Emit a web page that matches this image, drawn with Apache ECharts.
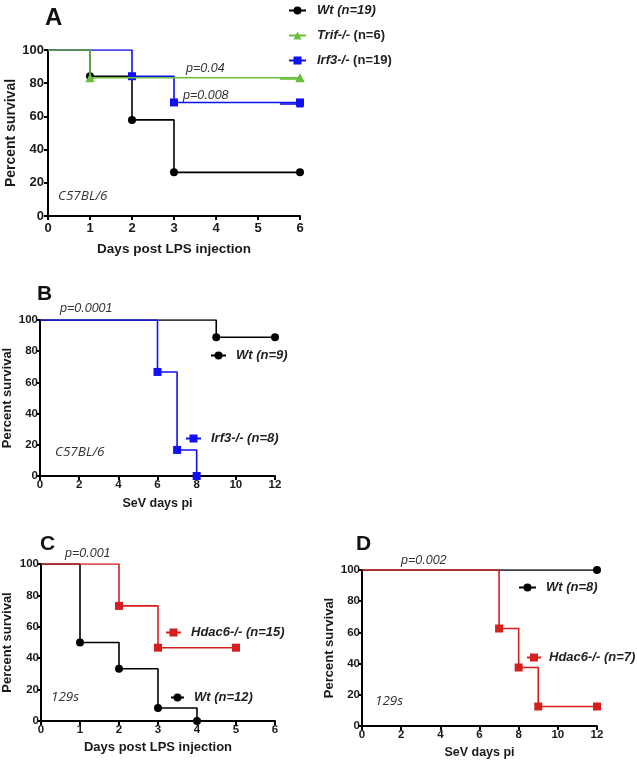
<!DOCTYPE html>
<html><head><meta charset="utf-8">
<script src="https://cdn.jsdelivr.net/npm/echarts@6/dist/echarts.min.js"></script>
<style>html,body{margin:0;padding:0;background:#fff}#c{width:637px;height:762px}</style>
</head><body><div id="c"></div>
<script>
// Panel A (LPS, C57BL/6)
const A_wt_days = [0, 1, 2, 3, 6];
const A_wt_surv = [100, 84.2, 57.9, 26.3, 26.3];
const A_trif_days = [0, 1, 6];
const A_trif_surv = [100, 83.3, 83.3];
const A_irf3_days = [0, 2, 3, 6];
const A_irf3_surv = [100, 84.2, 68.4, 68.4];
// Panel B (SeV, C57BL/6)
const B_wt_days = [0, 9, 12];
const B_wt_surv = [100, 88.9, 88.9];
const B_irf3_days = [0, 6, 7, 8];
const B_irf3_surv = [100, 66.7, 16.7, 0];
// Panel C (LPS, 129s)
const C_hdac6_days = [0, 2, 3, 5];
const C_hdac6_surv = [100, 73.3, 46.7, 46.7];
const C_wt_days = [0, 1, 2, 3, 4];
const C_wt_surv = [100, 50, 33.3, 8.3, 0];
// Panel D (SeV, 129s)
const D_wt_days = [0, 12];
const D_wt_surv = [100, 100];
const D_hdac6_days = [0, 7, 8, 9, 12];
const D_hdac6_surv = [100, 62.5, 37.5, 12.5, 12.5];

const names = {
  A_wt: 'Wt (n=19)', A_trif: 'Trif-/- (n=6)', A_irf3: 'Irf3-/- (n=19)',
  B_wt: 'Wt (n=9)', B_irf3: 'Irf3-/- (n=8)',
  C_hdac6: 'Hdac6-/- (n=15)', C_wt: 'Wt (n=12)',
  D_wt: 'Wt (n=8)', D_hdac6: 'Hdac6-/- (n=7)'
};

const BLACK = '#000000', GREEN = '#6abf3a', BLUE = '#1010f0', RED = '#d61e1e';
const FONT = '"Liberation Sans", Arial, sans-serif';

function ser(name, days, surv, idx, color, symbol, size, z) {
  return {
    type: 'line', name: name, xAxisIndex: idx, yAxisIndex: idx, step: 'end',
    symbol: symbol, symbolSize: size, showSymbol: true, showAllSymbol: true, z: z,
    lineStyle: { color: color, width: 1.6 }, itemStyle: { color: color },
    emphasis: { disabled: true },
    data: days.map((d, i) => i === 0 ? { value: [d, surv[i]], symbol: 'none' } : { value: [d, surv[i]] })
  };
}

function xAx(idx, max, interval, nm, fs, nfs, gap, margin) {
  return {
    type: 'value', gridIndex: idx, min: 0, max: max, interval: interval,
    name: nm, nameLocation: 'middle', nameGap: gap,
    nameTextStyle: { fontFamily: FONT, fontWeight: 'bold', fontSize: nfs, color: '#1a1a1a' },
    axisLine: { lineStyle: { color: '#000', width: 2 } },
    axisTick: { show: true, length: 4, lineStyle: { color: '#000', width: 2 } },
    axisLabel: { fontFamily: FONT, fontWeight: 'bold', fontSize: fs, color: '#1a1a1a', margin: margin },
    splitLine: { show: false }
  };
}
function yAx(idx, fs, nfs, gap, margin) {
  return {
    type: 'value', gridIndex: idx, min: 0, max: 100, interval: 20,
    name: 'Percent survival', nameLocation: 'middle', nameGap: gap, nameRotate: 90,
    nameTextStyle: { fontFamily: FONT, fontWeight: 'bold', fontSize: nfs, color: '#1a1a1a' },
    axisLine: { show: true, lineStyle: { color: '#000', width: 2 } },
    axisTick: { show: true, length: 4, lineStyle: { color: '#000', width: 2 } },
    axisLabel: { fontFamily: FONT, fontWeight: 'bold', fontSize: fs, color: '#1a1a1a', margin: margin },
    splitLine: { show: false }
  };
}

const rich = {
  bi: { fontFamily: FONT, fontWeight: 'bold', fontStyle: 'italic', fontSize: 13, color: '#222' },
  b: { fontFamily: FONT, fontWeight: 'bold', fontSize: 13, color: '#222' }
};
function fmt(name) {
  const m = name.match(/^(Trif-\/-|Irf3-\/-)( \(n=\d+\))$/);
  if (m && (name === names.A_trif || name === names.A_irf3)) return '{bi|' + m[1] + '}{b|' + m[2] + '}';
  return '{bi|' + name + '}';
}
function leg(nm, left, top, w, pad) {
  return {
    data: [nm], left: left, top: top, orient: 'vertical', itemWidth: w, itemHeight: 10,
    padding: 0, selectedMode: false, formatter: fmt,
    textStyle: { rich: rich, padding: [0, 0, 0, pad] }
  };
}

function txt(t, left, top, font, fill) {
  return { type: 'text', left: left, top: top, silent: true, style: { text: t, font: font, fill: fill || '#222' } };
}
const pFont = 'italic 12.5px ' + FONT;
const sFont = 'italic 13.5px "Open Sans", sans-serif';

const option = {
  animation: false,
  backgroundColor: '#fff',
  grid: [
    { left: 48, top: 50, width: 252, height: 166 },
    { left: 40, top: 320, width: 235, height: 156 },
    { left: 41, top: 564, width: 234, height: 157 },
    { left: 362, top: 570, width: 235, height: 156 }
  ],
  xAxis: [
    xAx(0, 6, 1, 'Days post LPS injection', 13, 13.5, 26, 6),
    xAx(1, 12, 2, 'SeV days pi', 11.5, 12.5, 21, 3),
    xAx(2, 6, 1, 'Days post LPS injection', 11.5, 13, 20, 3),
    xAx(3, 12, 2, 'SeV days pi', 11.5, 12.5, 20, 3)
  ],
  yAxis: [
    yAx(0, 13, 14, 30, 4),
    yAx(1, 11.5, 13, 26, 2),
    yAx(2, 11.5, 13, 27, 2),
    yAx(3, 11.5, 13, 26, 2)
  ],
  legend: [
    {
      data: [names.A_wt, names.A_trif, names.A_irf3], left: 288, top: 4, orient: 'vertical',
      itemWidth: 17, itemHeight: 10, itemGap: 12, padding: 0, selectedMode: false, formatter: fmt,
      textStyle: { rich: rich, padding: [0, 0, 0, 6] }
    },
    leg(names.B_wt, 210, 349, 15, 5),
    leg(names.B_irf3, 185, 432, 15, 5),
    leg(names.C_hdac6, 165, 626, 15, 5),
    leg(names.C_wt, 170, 691, 13, 5),
    leg(names.D_wt, 518, 581, 17, 5),
    leg(names.D_hdac6, 526, 651, 14, 3)
  ],
  series: [
    ser(names.A_wt, A_wt_days, A_wt_surv, 0, BLACK, 'circle', 8, 2),
    ser(names.A_irf3, A_irf3_days, A_irf3_surv, 0, BLUE, 'rect', 8, 3),
    ser(names.A_trif, A_trif_days, A_trif_surv, 0, GREEN, 'triangle', 9, 4),
    ser(names.B_wt, B_wt_days, B_wt_surv, 1, BLACK, 'circle', 8, 2),
    ser(names.B_irf3, B_irf3_days, B_irf3_surv, 1, BLUE, 'rect', 8, 3),
    ser(names.C_wt, C_wt_days, C_wt_surv, 2, BLACK, 'circle', 8, 2),
    ser(names.C_hdac6, C_hdac6_days, C_hdac6_surv, 2, RED, 'rect', 8, 3),
    ser(names.D_wt, D_wt_days, D_wt_surv, 3, BLACK, 'circle', 8, 2),
    ser(names.D_hdac6, D_hdac6_days, D_hdac6_surv, 3, RED, 'rect', 8, 3)
  ],
  graphic: [
    txt('A', 45, 6, 'bold 24px ' + FONT, '#111'),
    txt('B', 37, 284, 'bold 21px ' + FONT, '#111'),
    txt('C', 40, 534, 'bold 21px ' + FONT, '#111'),
    txt('D', 356, 534, 'bold 21px ' + FONT, '#111'),
    txt('p=0.04', 186, 62, pFont, '#333'),
    txt('p=0.008', 183, 89, pFont, '#333'),
    txt('p=0.0001', 60, 302, pFont, '#333'),
    txt('p=0.001', 65, 547, pFont, '#333'),
    txt('p=0.002', 401, 554, pFont, '#333'),
    txt('C57BL/6', 58, 189, sFont, '#333'),
    txt('C57BL/6', 55, 445, sFont, '#333'),
    txt('129s', 51, 690, sFont, '#333'),
    txt('129s', 375, 694, sFont, '#333'),
    // stray legend fragments in panel A
    { type: 'line', silent: true, shape: { x1: 280, y1: 79, x2: 302, y2: 79 }, style: { stroke: GREEN, lineWidth: 1.6 } },
    { type: 'polygon', silent: true, shape: { points: [[300, 74], [304.5, 82], [295.5, 82]] }, style: { fill: GREEN } },
    { type: 'line', silent: true, shape: { x1: 280, y1: 104, x2: 302, y2: 104 }, style: { stroke: BLUE, lineWidth: 1.6 } },
    { type: 'rect', silent: true, shape: { x: 296.5, y: 100.5, width: 7, height: 7 }, style: { fill: BLUE } }
  ]
};
echarts.init(document.getElementById('c'), null, { renderer: 'canvas' }).setOption(option);
</script>
</body></html>
